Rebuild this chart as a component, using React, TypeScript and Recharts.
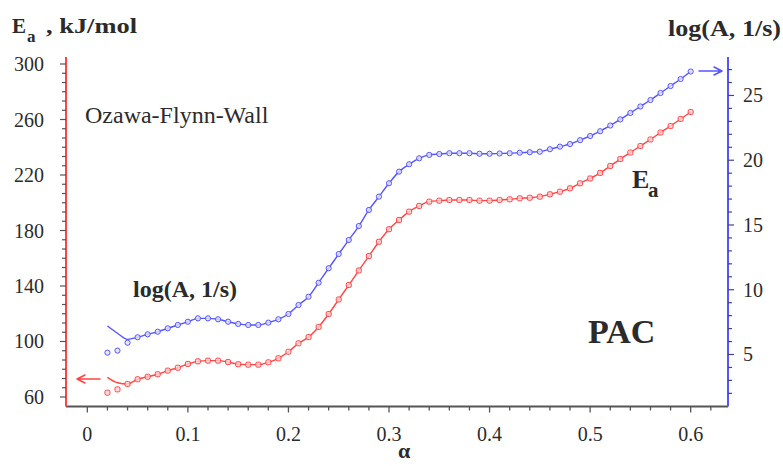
import React from 'react';
import { ComposedChart, Line, XAxis, YAxis } from 'recharts';

// conversion degree
const alpha = [
  0.02, 0.03, 0.04, 0.05, 0.06, 0.07, 0.08, 0.09, 0.1, 0.11,
  0.12, 0.13, 0.14, 0.15, 0.16, 0.17, 0.18, 0.19, 0.2, 0.21,
  0.22, 0.23, 0.24, 0.25, 0.26, 0.27, 0.28, 0.29, 0.3, 0.31,
  0.32, 0.33, 0.34, 0.35, 0.36, 0.37, 0.38, 0.39, 0.4, 0.41,
  0.42, 0.43, 0.44, 0.45, 0.46, 0.47, 0.48, 0.49, 0.5, 0.51,
  0.52, 0.53, 0.54, 0.55, 0.56, 0.57, 0.58, 0.59, 0.6,
];

// Ea, kJ/mol (left axis)
const eaMeasured = [
  63.1, 65.5, 69.4, 72.8, 74.6, 76.4, 79.0, 81.1, 83.8, 85.7,
  86.2, 86.2, 85.2, 83.6, 83.3, 83.3, 85.0, 87.9, 92.6, 98.7,
  103.2, 110.5, 119.8, 130.3, 140.7, 151.2, 161.6, 171.9, 180.9, 187.6,
  193.6, 197.7, 200.8, 201.5, 202.0, 202.0, 202.0, 201.5, 201.5, 202.0,
  202.5, 203.2, 203.6, 204.4, 206.1, 208.0, 210.4, 214.0, 217.5, 221.5,
  226.5, 231.5, 236.2, 240.9, 245.6, 250.6, 255.3, 260.4, 265.4,
];
// the fitted curve only departs from the points at the very start
const eaFitHead = [74.2, 70.3];

// log(A, 1/s) (right axis)
const logAMeasured = [
  5.14, 5.3, 5.91, 6.33, 6.56, 6.76, 7.02, 7.28, 7.53, 7.79,
  7.79, 7.72, 7.53, 7.36, 7.28, 7.28, 7.46, 7.72, 8.13, 8.82,
  9.46, 10.54, 11.66, 12.76, 13.84, 14.92, 16.16, 17.19, 18.22, 19.12,
  19.69, 20.15, 20.41, 20.48, 20.54, 20.54, 20.54, 20.5, 20.5, 20.52,
  20.54, 20.58, 20.62, 20.66, 20.85, 21.05, 21.25, 21.55, 21.87, 22.24,
  22.68, 23.15, 23.65, 24.15, 24.65, 25.19, 25.73, 26.27, 26.85,
];
const logAFitHead = [7.2, 6.64, 6.17];

const xMajor = [0, 0.1, 0.2, 0.3, 0.4, 0.5, 0.6];
const eaMajor = [60, 100, 140, 180, 220, 260, 300];
const logAMajor = [5, 10, 15, 20, 25];

const RED = '#ff4444';
const BLUE = '#5555ff';
const SERIF = '"Liberation Serif", "Times New Roman", serif';
const TXT = '#2b2b2b';

const data = alpha.map((a, i) => ({
  alpha: a,
  ea: eaMeasured[i],
  eaFit: i < eaFitHead.length ? eaFitHead[i] : eaMeasured[i],
  logA: logAMeasured[i],
  logAFit: i < logAFitHead.length ? logAFitHead[i] : logAMeasured[i],
}));

const xTicks: number[] = [];
for (let k = 0; k <= 31; k++) xTicks.push(Math.round(k * 2) / 100);

const eaTicks: number[] = [];
for (let i = 0; i < eaMajor.length; i++) {
  eaTicks.push(eaMajor[i]);
  if (i < eaMajor.length - 1) {
    const step = (eaMajor[i + 1] - eaMajor[i]) / 6;
    for (let j = 1; j < 6; j++) eaTicks.push(eaMajor[i] + j * step);
  }
}

const logATicks: number[] = [];
for (let v = 2; v <= 27; v++) logATicks.push(v);

const isMajor = (list: number[], v: number) => list.some((m) => Math.abs(m - v) < 1e-6);

const XTick = (props: any) => {
  const { x, y, payload } = props;
  const major = isMajor(xMajor, payload.value);
  return (
    <g>
      <line x1={x} x2={x} y1={y} y2={y + (major ? 6 : 4)} stroke="#555" strokeWidth={1.3} />
      {major && (
        <text x={x} y={y + 34} textAnchor="middle" fontSize={20} fontFamily={SERIF} fill={TXT}>
          {payload.value === 0 ? '0' : payload.value.toFixed(1)}
        </text>
      )}
    </g>
  );
};

const EaTick = (props: any) => {
  const { x, y, payload } = props;
  const major = isMajor(eaMajor, payload.value);
  return (
    <g>
      <line x1={x - (major ? 6 : 4)} x2={x} y1={y} y2={y} stroke="#555" strokeWidth={1.2} />
      {major && (
        <text x={x - 22} y={y + 7} textAnchor="end" fontSize={20} fontFamily={SERIF} fill={TXT}>
          {payload.value}
        </text>
      )}
    </g>
  );
};

const LogATick = (props: any) => {
  const { x, y, payload } = props;
  const major = isMajor(logAMajor, payload.value);
  return (
    <g>
      <line x1={x} x2={x + (major ? 6 : 4)} y1={y} y2={y} stroke="#444488" strokeWidth={1.2} />
      {major && (
        <text x={x + 15} y={y + 7} textAnchor="start" fontSize={20} fontFamily={SERIF} fill={TXT}>
          {payload.value}
        </text>
      )}
    </g>
  );
};

const RedDot = (p: any) => (
  <rect key={`r${p.index}`} x={p.cx - 2.5} y={p.cy - 2.5} width={5} height={5} rx={1.5}
    fill="#ffd6d6" fillOpacity={0.8} stroke={RED} strokeWidth={1} />
);

const BlueDot = (p: any) => (
  <circle key={`b${p.index}`} cx={p.cx} cy={p.cy} r={2.6}
    fill="#e2e2ff" fillOpacity={0.8} stroke={BLUE} strokeWidth={1} />
);

export default function App() {
  return (
    <div style={{ position: 'absolute', left: 0, top: 0, width: 783, height: 466, background: '#fff' }}>
      <ComposedChart
        width={783}
        height={466}
        data={data}
        margin={{ top: 57, right: 5, bottom: 20, left: 16 }}
      >
        <XAxis
          dataKey="alpha"
          type="number"
          domain={[-0.0212, 0.6371]}
          allowDataOverflow
          ticks={xTicks}
          interval={0}
          tick={<XTick />}
          tickLine={false}
          tickSize={0}
          tickMargin={0}
          height={39.5}
          axisLine={{ stroke: '#555', strokeWidth: 2 }}
        />
        <YAxis
          yAxisId="ea"
          orientation="left"
          type="number"
          domain={[53.15, 305.05]}
          allowDataOverflow
          ticks={eaTicks}
          interval={0}
          tick={<EaTick />}
          tickLine={false}
          tickSize={0}
          tickMargin={0}
          width={50}
          axisLine={{ stroke: RED, strokeWidth: 2 }}
        />
        <YAxis
          yAxisId="logA"
          orientation="right"
          type="number"
          domain={[0.985, 27.97]}
          allowDataOverflow
          ticks={logATicks}
          interval={0}
          tick={<LogATick />}
          tickLine={false}
          tickSize={0}
          tickMargin={0}
          width={50}
          axisLine={{ stroke: BLUE, strokeWidth: 2 }}
        />
        <Line yAxisId="ea" type="monotone" dataKey="eaFit" stroke={RED} strokeWidth={1.4}
          dot={false} isAnimationActive={false} />
        <Line yAxisId="ea" dataKey="ea" stroke="none" dot={RedDot} isAnimationActive={false} />
        <Line yAxisId="logA" type="monotone" dataKey="logAFit" stroke={BLUE} strokeWidth={1.4}
          dot={false} isAnimationActive={false} />
        <Line yAxisId="logA" dataKey="logA" stroke="none" dot={BlueDot} isAnimationActive={false} />
      </ComposedChart>

      <svg width={783} height={466} style={{ position: 'absolute', left: 0, top: 0, pointerEvents: 'none' }}>
        <g fontFamily={SERIF} fill={TXT}>
          {/* axis titles */}
          <text x={12} y={33} fontSize={21} fontWeight="bold">E</text>
          <text x={27} y={42} fontSize={17} fontWeight="bold">a</text>
          <text x={46} y={33} fontSize={20} fontWeight="bold" textLength={91} lengthAdjust="spacingAndGlyphs">, kJ/mol</text>
          <text x={668} y={36} fontSize={24} fontWeight="bold" textLength={113} lengthAdjust="spacingAndGlyphs">log(A, 1/s)</text>
          <text x={398} y={458} fontSize={22} fontWeight="bold">α</text>
          {/* annotations */}
          <text x={85} y={123} fontSize={24}>Ozawa-Flynn-Wall</text>
          <text x={133} y={297} fontSize={24} fontWeight="bold">log(A, 1/s)</text>
          <text x={588} y={343} fontSize={34} fontWeight="bold">PAC</text>
          <text x={632} y={188} fontSize={26} fontWeight="bold">E</text>
          <text x={648} y={197} fontSize={21} fontWeight="bold">a</text>
        </g>
        {/* arrows pointing to each axis */}
        <g fill="none" strokeWidth={1.5} strokeLinecap="round">
          <path d="M100 379 L77 379 M77 379 L85 375 M77 379 L85 383" stroke={RED} />
          <path d="M699 71 L722 71 M722 71 L714 67 M722 71 L714 75" stroke={BLUE} />
        </g>
      </svg>
    </div>
  );
}
